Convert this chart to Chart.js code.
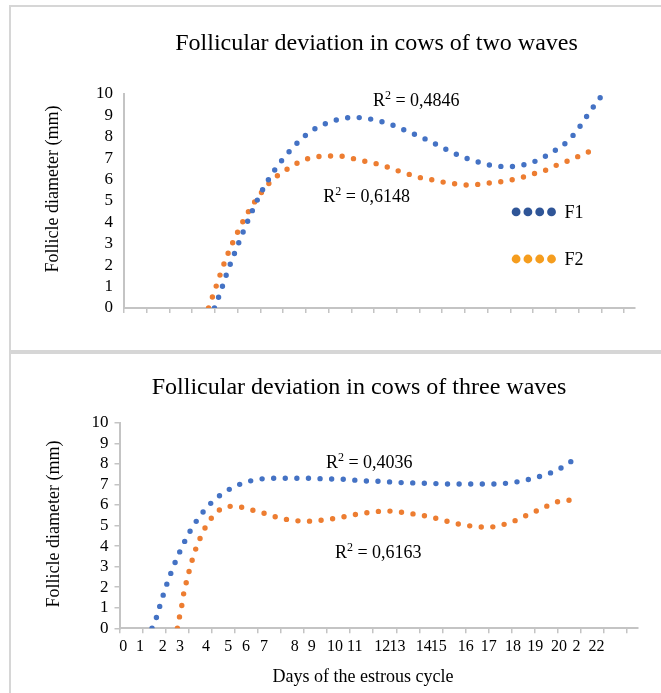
<!DOCTYPE html>
<html>
<head>
<meta charset="utf-8">
<title>Follicular deviation</title>
<script src="https://cdn.jsdelivr.net/npm/chart.js@4.4.1/dist/chart.umd.min.js"></script>
<style>
    html, body { margin: 0; padding: 0; background: #fff; overflow: hidden; }
    body { width: 661px; height: 693px; position: relative; }
    .panel { position: absolute; left: 9px; width: 720px; border: 2px solid #d6d6d6; box-sizing: border-box; }
    #panel_two { top: 5px; height: 347px; }
    #panel_three { top: 352px; height: 400px; }
    .box { position: absolute; left: 0; width: 661px; }
    #box_two { top: 0; height: 352px; }
    #box_three { top: 352px; height: 341px; }
</style>
</head>
<body>
<div class="panel" id="panel_two"></div>
<div class="panel" id="panel_three"></div>
<div class="box" id="box_two"><canvas id="two_waves_graph"></canvas></div>
<div class="box" id="box_three"><canvas id="three_waves_graph"></canvas></div>
<script>
// x axis: days of the estrous cycle
const dayTicks = [0, 1, 2, 3, 4, 5, 6, 7, 8, 9, 10, 11, 12, 13, 14, 15, 16, 17, 18, 19, 20, 21, 22];
const dayLabels = ['0', '1', '2', '3', '4', '5', '6', '7', '8', '9', '10', '11', '12', '13', '14', '15', '16', '17', '18', '19', '20', '2', '22'];
const dayLabelAt = [0.16, 0.89, 1.87, 2.62, 3.75, 4.71, 5.48, 6.26, 7.6, 8.33, 9.34, 10.2, 11.39, 12.05, 13.19, 13.84, 15.01, 16.01, 17.06, 18.03, 19.06, 19.81, 20.68];
const mmTicks = [0, 1, 2, 3, 4, 5, 6, 7, 8, 9, 10];
const seriesNames = ['F1', 'F2'];

// two waves (trend lines)
const twoF1Days = [3.98, 4.25, 4.5, 5, 5.5, 6, 6.5, 7, 7.5, 8, 8.5, 9, 9.5, 10, 10.5, 11, 11.5, 12, 12.5, 13, 13.5, 14, 14.5, 15, 15.5, 16, 16.5, 17, 17.5, 18, 18.5, 19, 19.5, 20, 20.5, 21];
const twoF1Mm = [0, 0.76, 1.55, 2.92, 4.2, 5.33, 6.24, 6.97, 7.58, 8.08, 8.44, 8.67, 8.83, 8.9, 8.89, 8.79, 8.66, 8.47, 8.24, 8.02, 7.77, 7.5, 7.24, 7.02, 6.85, 6.7, 6.62, 6.61, 6.67, 6.82, 7.07, 7.39, 7.77, 8.4, 9.18, 9.9];
const twoF2Days = [3.72, 4, 4.25, 4.5, 5, 5.5, 6, 6.5, 7, 7.5, 8, 8.5, 9, 9.5, 10, 10.5, 11, 11.5, 12, 12.5, 13, 13.5, 14, 14.5, 15, 15.5, 16, 16.5, 17, 17.5, 18, 18.5, 19, 19.5, 20, 20.5, 20.8];
const twoF2Mm = [0, 0.85, 1.62, 2.35, 3.55, 4.55, 5.33, 5.96, 6.36, 6.7, 6.95, 7.07, 7.1, 7.1, 7.0, 6.88, 6.77, 6.62, 6.43, 6.26, 6.1, 6.0, 5.89, 5.81, 5.75, 5.77, 5.83, 5.89, 5.98, 6.1, 6.27, 6.42, 6.66, 6.86, 7.09, 7.32, 7.45];
const twoR2 = ['0,4846', '0,6148'];

// three waves (trend lines)
const threeF1Days = [1.41, 1.6, 1.75, 2, 2.25, 2.5, 2.75, 3, 3.5, 4, 4.5, 5, 5.5, 6, 6.5, 7, 7.5, 8, 8.5, 9, 9.5, 10, 10.5, 11, 11.5, 12, 12.5, 13, 13.5, 14, 14.5, 15, 15.5, 16, 16.5, 17, 17.5, 18, 18.5, 19, 19.5, 19.75];
const threeF1Mm = [0, 0.52, 1.09, 1.98, 2.75, 3.44, 4.05, 4.61, 5.48, 6.13, 6.58, 6.9, 7.12, 7.24, 7.3, 7.3, 7.3, 7.3, 7.29, 7.27, 7.26, 7.23, 7.18, 7.16, 7.14, 7.1, 7.08, 7.07, 7.05, 7.03, 7.02, 7.02, 7.02, 7.02, 7.03, 7.09, 7.18, 7.32, 7.49, 7.71, 8.06, 8.25];
const threeF2Days = [2.51, 2.6, 2.7, 2.8, 2.9, 3, 3.25, 3.5, 3.75, 4, 4.5, 5, 5.5, 6, 6.5, 7, 7.5, 8, 8.5, 9, 9.5, 10, 10.5, 11, 11.5, 12, 12.5, 13, 13.5, 14, 14.5, 15, 15.5, 16, 16.5, 17, 17.5, 18, 18.5, 19, 19.5, 19.95];
const threeF2Mm = [0, 0.55, 1.1, 1.8, 2.25, 2.7, 3.68, 4.39, 4.97, 5.38, 5.87, 5.94, 5.83, 5.68, 5.52, 5.35, 5.26, 5.21, 5.23, 5.29, 5.38, 5.49, 5.59, 5.66, 5.71, 5.68, 5.6, 5.52, 5.41, 5.27, 5.12, 5.02, 4.94, 4.92, 5.01, 5.17, 5.42, 5.67, 5.93, 6.16, 6.23, 6.05];
const threeR2 = ['0,4036', '0,6163'];

const serif = "'Liberation Serif', 'Times New Roman', serif";
const trendColors = ['#4472c4', '#ed7d31'];
const markerColors = ['#2f5597', '#f59d1e'];
const axisGray = '#c4c4c4';

Chart.defaults.font.family = serif;
Chart.defaults.color = '#000';
Chart.defaults.animation = false;

function dotted(label, days, mm, color) {
    return {
        label: label,
        data: days.map(function (d, i) {
            return {x: d, y: mm[i]};
        }),
        borderColor: color,
        borderWidth: 5.4,
        borderDash: [0, 11.6],
        borderCapStyle: 'round',
        pointRadius: 0,
        fill: false,
        cubicInterpolationMode: 'monotone'
    };
}

function drawR2(ctx, x, y, value) {
    ctx.textAlign = 'left';
    ctx.textBaseline = 'middle';
    ctx.font = '18px ' + serif;
    ctx.fillText('R', x, y);
    let w = ctx.measureText('R').width;
    ctx.font = '12px ' + serif;
    ctx.fillText('2', x + w, y - 5);
    w += ctx.measureText('2').width;
    ctx.font = '18px ' + serif;
    ctx.fillText(' = ' + value, x + w, y);
}

// titles, R² notes and the marker legend
function notes(cfg) {
    return {
        id: 'notes',
        afterDraw: function (chart) {
            const ctx = chart.ctx;
            const xs = chart.scales.x;
            const ys = chart.scales.y;
            ctx.save();
            ctx.fillStyle = '#000';
            ctx.textAlign = 'center';
            ctx.textBaseline = 'middle';
            ctx.font = '24px ' + serif;
            ctx.fillText(cfg.title, cfg.titleX, cfg.titleY);

            ctx.font = '18px ' + serif;
            ctx.save();
            ctx.translate(cfg.yTitleX, cfg.yTitleY);
            ctx.rotate(-Math.PI / 2);
            ctx.fillText('Follicle diameter (mm)', 0, 0);
            ctx.restore();

            if (cfg.xTitle) {
                ctx.fillText(cfg.xTitle, cfg.xTitleX, cfg.xTitleY);
            }

            cfg.r2.forEach(function (r) {
                drawR2(ctx, xs.getPixelForValue(r.x), ys.getPixelForValue(r.y), r.text);
            });

            if (cfg.legend) {
                const lx = xs.getPixelForValue(cfg.legend.x);
                chart.data.datasets.forEach(function (ds, i) {
                    const ly = ys.getPixelForValue(cfg.legend.y[i]);
                    ctx.fillStyle = markerColors[i];
                    for (let k = 0; k < 4; k++) {
                        ctx.beginPath();
                        ctx.arc(lx + k * 11.8, ly, 4.4, 0, Math.PI * 2);
                        ctx.fill();
                    }
                    ctx.fillStyle = '#000';
                    ctx.textAlign = 'left';
                    ctx.font = '18px ' + serif;
                    ctx.fillText(ds.label, lx + 3 * 11.8 + 13, ly + 1);
                });
            }
            ctx.restore();
        }
    };
}

function tickAxis() {
    return {
        type: 'linear',
        min: 0,
        max: 22.48,
        afterBuildTicks: function (axis) {
            axis.ticks = dayTicks.map(function (v) { return {value: v}; });
        },
        afterFit: function (axis) { axis.height = 6; },
        ticks: { display: false, autoSkip: false },
        grid: { drawOnChartArea: false, drawTicks: true, tickLength: 5, color: axisGray, lineWidth: 1.5 },
        border: { color: axisGray, width: 2 }
    };
}

(function () {
    const twoGraph = document.getElementById('two_waves_graph');
    new Chart(twoGraph, {
        type: 'line',
        data: {
            datasets: [
                dotted(seriesNames[0], twoF1Days, twoF1Mm, trendColors[0]),
                dotted(seriesNames[1], twoF2Days, twoF2Mm, trendColors[1])
            ]
        },
        options: {
            responsive: true,
            maintainAspectRatio: false,
            layout: { padding: { top: 94, right: 26, left: 0, bottom: 38 } },
            plugins: { legend: { display: false }, tooltip: { enabled: false } },
            scales: {
                x: tickAxis(),
                y: {
                    min: 0,
                    max: 10,
                    afterBuildTicks: function (axis) {
                        axis.ticks = mmTicks.map(function (v) { return {value: v}; });
                    },
                    afterFit: function (axis) { axis.width = 124; },
                    ticks: { autoSkip: false, font: { size: 17 }, padding: 11, color: '#000' },
                    grid: { display: false, drawTicks: false },
                    border: { color: axisGray, width: 2 }
                }
            }
        },
        plugins: [notes({
            title: 'Follicular deviation in cows of two waves',
            titleX: 376.5, titleY: 44,
            yTitleX: 53, yTitleY: 189,
            r2: [{x: 10.95, y: 9.67, text: twoR2[0]}, {x: 8.77, y: 5.19, text: twoR2[1]}],
            legend: {x: 17.25, y: [4.49, 2.29]}
        })]
    });
})();

(function () {
    const threeGraph = document.getElementById('three_waves_graph');
    new Chart(threeGraph, {
        type: 'line',
        data: {
            datasets: [
                dotted(seriesNames[0], threeF1Days, threeF1Mm, trendColors[0]),
                dotted(seriesNames[1], threeF2Days, threeF2Mm, trendColors[1])
            ]
        },
        options: {
            responsive: true,
            maintainAspectRatio: false,
            layout: { padding: { top: 70.8, right: 23, left: 0, bottom: 32.7 } },
            plugins: { legend: { display: false }, tooltip: { enabled: false } },
            scales: {
                x: tickAxis(),
                xLab: {
                    type: 'linear',
                    position: 'bottom',
                    weight: 1,
                    min: 0,
                    max: 22.48,
                    afterBuildTicks: function (axis) {
                        axis.ticks = dayLabelAt.map(function (v) { return {value: v}; });
                    },
                    afterFit: function (axis) { axis.height = 26; },
                    ticks: {
                        autoSkip: false,
                        maxRotation: 0,
                        padding: 3,
                        font: { size: 16 },
                        color: '#000',
                        callback: function (value, index) {
                            return dayLabels[index];
                        }
                    },
                    grid: { display: false, drawTicks: false },
                    border: { display: false }
                },
                y: {
                    min: 0,
                    max: 10,
                    afterBuildTicks: function (axis) {
                        axis.ticks = mmTicks.map(function (v) { return {value: v}; });
                    },
                    afterFit: function (axis) { axis.width = 119.5; },
                    ticks: { autoSkip: false, font: { size: 17 }, padding: 6, color: '#000' },
                    grid: { drawOnChartArea: false, drawTicks: true, tickLength: 5, color: axisGray, lineWidth: 1.5 },
                    border: { color: axisGray, width: 2 }
                }
            }
        },
        plugins: [notes({
            title: 'Follicular deviation in cows of three waves',
            titleX: 359, titleY: 36,
            yTitleX: 54, yTitleY: 172,
            xTitle: 'Days of the estrous cycle',
            xTitleX: 363, xTitleY: 325,
            r2: [{x: 8.95, y: 8.03, text: threeR2[0]}, {x: 9.34, y: 3.65, text: threeR2[1]}]
        })]
    });
})();
</script>
</body>
</html>
